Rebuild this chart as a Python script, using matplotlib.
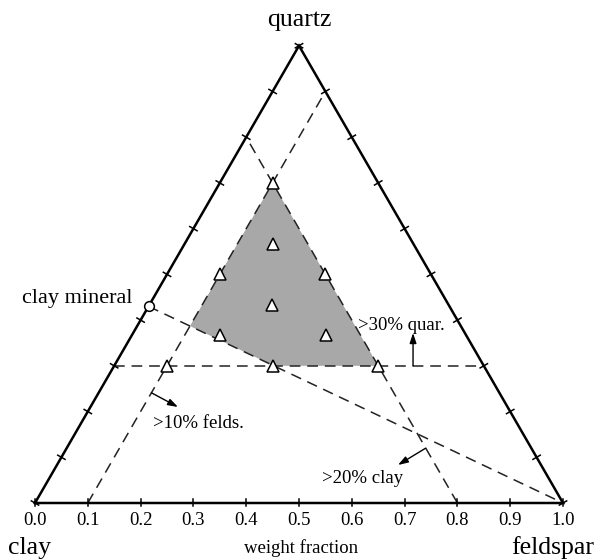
import numpy as np
import matplotlib
matplotlib.use('Agg')
import matplotlib.pyplot as plt

plt.rcParams['font.family'] = ['Liberation Serif', 'DejaVu Serif']

# compositions (quartz, feldspar weight fractions)
sample_quartz = [0.70, 0.567, 0.50, 0.50, 0.433, 0.367, 0.367, 0.30, 0.30, 0.30]
sample_felds = [0.10, 0.167, 0.10, 0.30, 0.233, 0.167, 0.367, 0.10, 0.30, 0.50]

clay_mineral_quartz = 0.43   # clay mineral end member sits on the clay-quartz edge
quartz_min = 0.30            # >30% quartz
felds_min = 0.10             # >10% feldspar
clay_max = 0.20              # clay line at 20%

tick_values = [0.0, 0.1, 0.2, 0.3, 0.4, 0.5, 0.6, 0.7, 0.8, 0.9, 1.0]
tick_labels = ['0.0', '0.1', '0.2', '0.3', '0.4', '0.5', '0.6', '0.7', '0.8', '0.9', '1.0']

H = np.sqrt(3) / 2


def tern(q, f):
    q = np.asarray(q, dtype=float)
    f = np.asarray(f, dtype=float)
    return f + q / 2, q * H


fig = plt.figure(figsize=(6, 5.6), dpi=100)
ax = fig.add_axes([0, 0, 1, 1])
ax.set_xlim(-35 / 528, 565 / 528)
ax.set_ylim(-57 / 528, 503 / 528)
ax.axis('off')

# triangle frame
corners_q = [0, 1, 0, 0]
corners_f = [0, 0, 1, 0]
cx, cy = tern(corners_q, corners_f)
ax.plot(cx, cy, color='black', lw=1.8, solid_joinstyle='miter', zorder=3)

# ticks across each edge
tl = 0.008
for t in tick_values:
    # bottom edge clay -> feldspar
    x, y = tern(0, t)
    ax.plot([x, x], [y - tl * 0.7, y + tl], color='black', lw=1.1, zorder=3)
    # left edge clay -> quartz, normal (-H, 0.5)
    x, y = tern(t, 0)
    ax.plot([x - H * tl, x + H * tl], [y + 0.5 * tl, y - 0.5 * tl], color='black', lw=1.1, zorder=3)
    # right edge feldspar -> quartz, normal (H, 0.5)
    x, y = tern(t, 1 - t)
    ax.plot([x - H * tl, x + H * tl], [y - 0.5 * tl, y + 0.5 * tl], color='black', lw=1.1, zorder=3)

for t, lab in zip(tick_values, tick_labels):
    x, y = tern(0, t)
    ax.text(x, -0.0417, lab, ha='center', va='baseline', fontsize=13.5)

# shaded accepted region
q0 = clay_mineral_quartz
q_cm = (1 - felds_min) * q0                       # clay-mineral line meets feldspar line
f_cm = 1 - quartz_min / q0                        # clay-mineral line meets quartz line
region_q = [1 - clay_max - felds_min, quartz_min, quartz_min, q_cm]
region_f = [felds_min, 1 - clay_max - quartz_min, f_cm, felds_min]
rx, ry = tern(region_q, region_f)
ax.fill(rx, ry, color='#a8a8a8', lw=0, zorder=1)

dash = dict(color='#222222', lw=1.1, dashes=(7, 4.5), zorder=2)
# quartz > 30%
x, y = tern([quartz_min, quartz_min], [0, 1 - quartz_min])
ax.plot(x, y, **dash)
# feldspar > 10%
x, y = tern([0, 1 - felds_min], [felds_min, felds_min])
ax.plot(x, y, **dash)
# clay 20%
x, y = tern([0, 1 - clay_max], [1 - clay_max, 0])
ax.plot(x, y, **dash)
# clay mineral - feldspar mixing line
x, y = tern([q0, 0], [0, 1])
ax.plot(x, y, **dash)

# samples
sx, sy = tern(sample_quartz, sample_felds)
ax.plot(sx, sy, ls='none', marker='^', ms=8, mfc='white', mec='black', mew=1.1, zorder=5)
mx, my = tern(q0, 0)
ax.plot(mx, my, ls='none', marker='o', ms=7, mfc='white', mec='black', mew=1.1, zorder=5)

# arrows
arr = dict(arrowstyle='-|>,head_length=0.6,head_width=0.2', color='black', lw=1.0, shrinkA=0, shrinkB=0)
ax.annotate('', xy=(0.716, 0.322), xytext=(0.716, quartz_min * H), arrowprops=arr, zorder=6)
x0, y0 = tern(0.241, felds_min)
ax.annotate('', xy=(0.2708, 0.1818), xytext=(x0, y0), arrowprops=arr, zorder=6)
x0, y0 = tern(0.12, 1 - clay_max - 0.12)
ax.annotate('', xy=(0.6875, 0.072), xytext=(x0, y0), arrowprops=arr, zorder=6)

# labels
ax.text(0.5, 0.903, 'quartz', ha='center', va='baseline', fontsize=18.5)
ax.text(-0.0095, -0.0966, 'clay', ha='center', va='baseline', fontsize=18.5)
ax.text(0.981, -0.0966, 'feldspar', ha='center', va='baseline', fontsize=18.5)
ax.text(0.504, -0.0947, 'weight fraction', ha='center', va='baseline', fontsize=13.5)
ax.text(0.184, 0.379, 'clay mineral', ha='right', va='baseline', fontsize=16)
ax.text(0.612, 0.328, '>30% quar.', ha='left', va='baseline', fontsize=13.5)
ax.text(0.2235, 0.142, '>10% felds.', ha='left', va='baseline', fontsize=13.5)
ax.text(0.5436, 0.0379, '>20% clay', ha='left', va='baseline', fontsize=13.5)

fig.savefig('out.png', dpi=100)
